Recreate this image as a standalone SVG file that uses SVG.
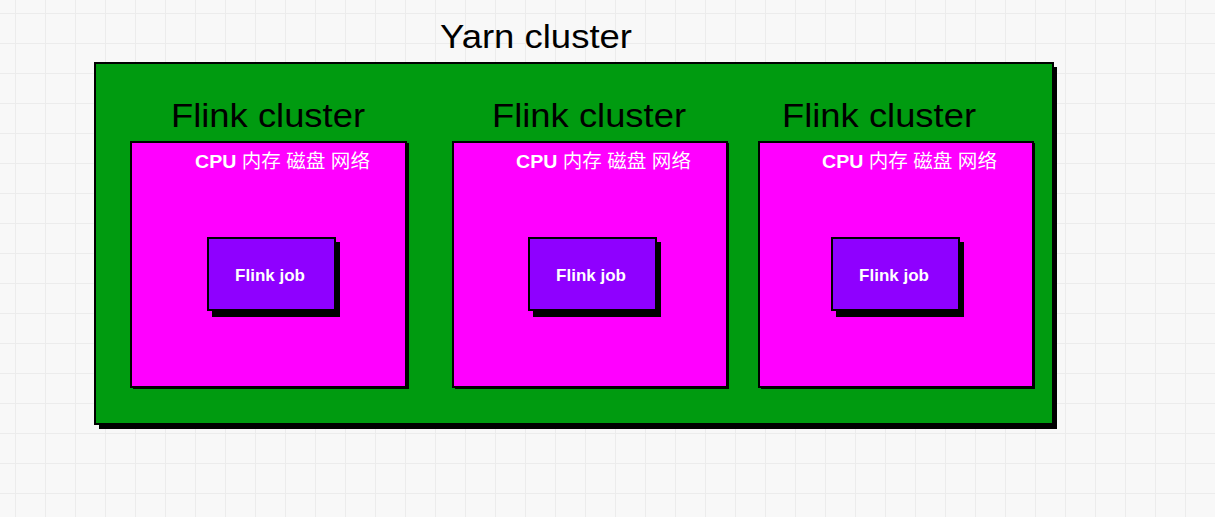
<svg xmlns="http://www.w3.org/2000/svg" width="1215" height="517" viewBox="0 0 1215 517">
<defs>
<pattern id="grid" x="15" y="13" width="30" height="30" patternUnits="userSpaceOnUse">
<rect width="30" height="30" fill="#f8f8f8"/>
<path d="M0 0H30M0 0V30" stroke="#ececec" stroke-width="2" fill="none"/>
</pattern>
</defs>
<style>
.title{font-family:"Liberation Sans","Noto Sans",sans-serif;font-size:34px;fill:#000;text-anchor:middle}
.res{font-family:"Liberation Sans","Noto Sans CJK SC",sans-serif;font-size:19px;fill:#fff}
.b{font-weight:bold}
.job{font-family:"Liberation Sans",sans-serif;font-weight:bold;font-size:17px;fill:#fff;text-anchor:middle}
.shadow{fill:#000}
.box{stroke:#000;stroke-width:2}
.pink{fill:#ff00ff}
.purple{fill:#8f00ff}
</style>
<rect width="1215" height="517" fill="url(#grid)"/>
<g id="yarn">
<rect class="shadow" x="99" y="67" width="958" height="362"/>
<rect class="box" x="95" y="63" width="958" height="361" fill="#009b10"/>
<text class="title" x="536" y="48" textLength="192" lengthAdjust="spacingAndGlyphs">Yarn cluster</text>
</g>
<g id="flink1">
<text class="title" x="268" y="127" textLength="194" lengthAdjust="spacingAndGlyphs">Flink cluster</text>
<rect class="shadow" x="133" y="143" width="276" height="246"/>
<rect class="box pink" x="131" y="142" width="275" height="245"/>
<text class="res" x="195" y="168" textLength="175" lengthAdjust="spacingAndGlyphs"><tspan class="b">CPU</tspan> 内存 磁盘 网络</text>
</g>
<g id="job1">
<rect class="shadow" x="212" y="242" width="128" height="75"/>
<rect class="box purple" x="208" y="238" width="127" height="72"/>
<text class="job" x="270" y="281">Flink job</text>
</g>
<g id="flink2">
<text class="title" x="589" y="127" textLength="194" lengthAdjust="spacingAndGlyphs">Flink cluster</text>
<rect class="shadow" x="455" y="143" width="274" height="246"/>
<rect class="box pink" x="453" y="142" width="274" height="245"/>
<text class="res" x="516" y="168" textLength="175" lengthAdjust="spacingAndGlyphs"><tspan class="b">CPU</tspan> 内存 磁盘 网络</text>
</g>
<g id="job2">
<rect class="shadow" x="533" y="242" width="128" height="75"/>
<rect class="box purple" x="529" y="238" width="127" height="72"/>
<text class="job" x="591" y="281">Flink job</text>
</g>
<g id="flink3">
<text class="title" x="879" y="127" textLength="194" lengthAdjust="spacingAndGlyphs">Flink cluster</text>
<rect class="shadow" x="761" y="143" width="274" height="246"/>
<rect class="box pink" x="759" y="142" width="274" height="245"/>
<text class="res" x="822" y="168" textLength="175" lengthAdjust="spacingAndGlyphs"><tspan class="b">CPU</tspan> 内存 磁盘 网络</text>
</g>
<g id="job3">
<rect class="shadow" x="836" y="242" width="128" height="75"/>
<rect class="box purple" x="832" y="238" width="127" height="72"/>
<text class="job" x="894" y="281">Flink job</text>
</g>
<g id="connectors"/>
</svg>
